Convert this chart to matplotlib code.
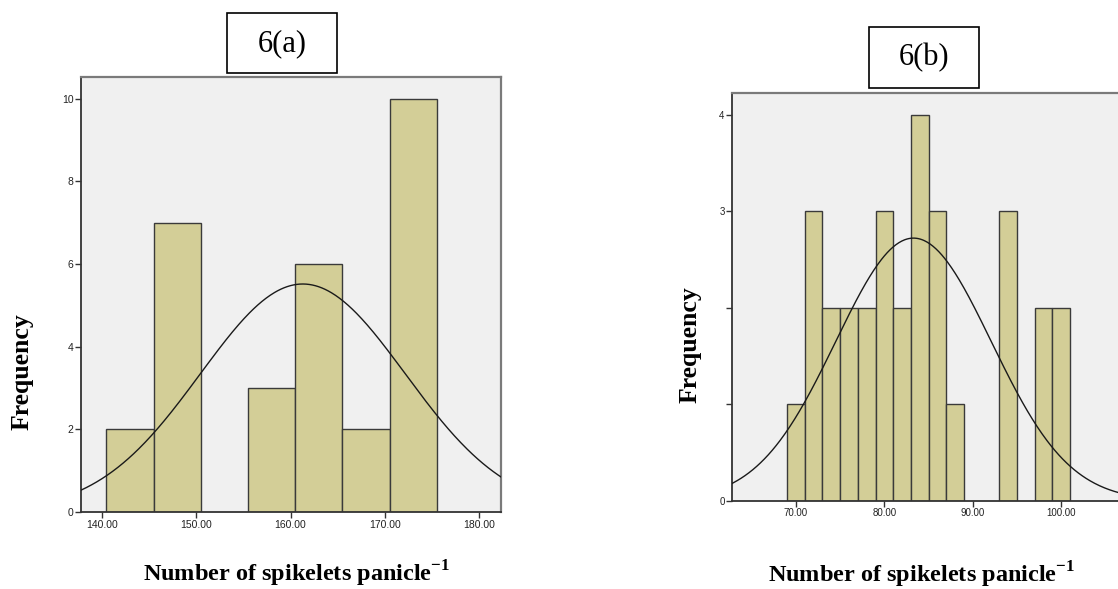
import numpy as np
import matplotlib
matplotlib.use("Agg")
import matplotlib.pyplot as plt
from matplotlib.patches import Rectangle

plt.rcParams['mathtext.fontset'] = 'custom'
plt.rcParams['mathtext.rm'] = 'Liberation Serif'
plt.rcParams['mathtext.bf'] = 'Liberation Serif:bold'

# ---- data: panel 6(a) ----
a_bin_edges = [140.5, 145.5, 150.5, 155.5, 160.5, 165.5, 170.5, 175.5]
a_counts = [2, 7, 0, 3, 6, 2, 10]
a_mean, a_sd, a_n = 161.3, 10.85, 30
a_xticks = [140, 150, 160, 170, 180]
a_yticks = [0, 2, 4, 6, 8, 10]
a_ytick_labels = ["0", "2", "4", "6", "8", "10"]

# ---- data: panel 6(b) ----
b_bin_edges = [69, 71, 73, 75, 77, 79, 81, 83, 85, 87, 89, 91, 93, 95, 97, 99, 101]
b_counts = [1, 3, 2, 2, 2, 3, 2, 4, 3, 1, 0, 0, 3, 0, 2, 2]
b_mean, b_sd, b_n = 83.3, 8.8, 30
b_xticks = [70, 80, 90, 100]
b_yticks = [0, 1, 2, 3, 4]
b_ytick_labels = ["0", "", "", "3", "4"]

W, H = 1118, 589
fig = plt.figure(figsize=(W / 100, H / 100), dpi=100)

BAR = '#D3CE97'
EDGE = '#3a3a3a'
BG = '#F0F0F0'


def panel(rect, edges, counts, mean, sd, n, xlim, ylim, xticks, yticks, ylabels, tfs):
    ax = fig.add_axes(rect)
    ax.set_facecolor(BG)
    edges = np.array(edges, dtype=float)
    widths = np.diff(edges)
    for l, w, c in zip(edges[:-1], widths, counts):
        if c > 0:
            ax.bar(l, c, width=w, align='edge', color=BAR, edgecolor=EDGE, linewidth=1.0, zorder=2)
    bw = widths[0]
    xs = np.linspace(xlim[0], xlim[1], 400)
    ys = n * bw / (sd * np.sqrt(2 * np.pi)) * np.exp(-0.5 * ((xs - mean) / sd) ** 2)
    ax.plot(xs, ys, color='#1a1a1a', lw=1.0, zorder=3)
    ax.set_xlim(*xlim)
    ax.set_ylim(*ylim)
    ax.set_xticks(xticks)
    ax.set_xticklabels([f"{t:.2f}" for t in xticks], fontsize=tfs, family='Liberation Sans', color='#222222')
    ax.set_yticks(yticks)
    ax.set_yticklabels(ylabels, fontsize=tfs, family='Liberation Sans', color='#222222')
    ax.tick_params(direction='out', length=4, width=1.0, color='#333333', pad=1.5)
    for s in ['left', 'bottom']:
        ax.spines[s].set_color('#333333')
        ax.spines[s].set_linewidth(1.3)
    for s in ['top', 'right']:
        ax.spines[s].set_color('#7a7a7a')
        ax.spines[s].set_linewidth(1.6)
    return ax


axa = panel([81 / W, 1 - 512 / H, (500.7 - 81) / W, (512 - 76.7) / H],
            a_bin_edges, a_counts, a_mean, a_sd, a_n,
            (137.8, 182.27), (0, 10.53), a_xticks, a_yticks, a_ytick_labels, 7.5)

axb = panel([732.3 / W, 1 - 500.7 / H, (1121 - 732.3) / W, (500.7 - 93.3) / H],
            b_bin_edges, b_counts, b_mean, b_sd, b_n,
            (62.79, 106.79), (0, 4.22), b_xticks, b_yticks, b_ytick_labels, 7)

# title boxes
for (x0, y0, x1, y1, txt) in [(226.7, 13.3, 337.3, 73.3, '6(a)'), (869, 27.3, 979.3, 87.7, '6(b)')]:
    fig.add_artist(Rectangle((x0 / W, 1 - y1 / H), (x1 - x0) / W, (y1 - y0) / H,
                             transform=fig.transFigure, facecolor='white',
                             edgecolor='black', linewidth=1.2, zorder=5))
    fig.text((x0 + x1) / 2 / W, 1 - (y0 + y1) / 2 / H, txt, ha='center', va='center',
             fontsize=22, family='Liberation Serif', zorder=6)

# axis labels
xl = r'Number of spikelets panicle$^{\mathbf{-1}}$'
fig.text(296.5 / W, 1 - 574 / H, xl, ha='center', va='center', fontsize=17.5,
         family='Liberation Serif', fontweight='bold')
fig.text(921.5 / W, 1 - 575 / H, xl, ha='center', va='center', fontsize=17.5,
         family='Liberation Serif', fontweight='bold')
fig.text(22 / W, 1 - 372 / H, 'Frequency', ha='center', va='center', rotation=90,
         fontsize=18.5, family='Liberation Serif', fontweight='bold')
fig.text(690 / W, 1 - 345 / H, 'Frequency', ha='center', va='center', rotation=90,
         fontsize=18.5, family='Liberation Serif', fontweight='bold')

fig.savefig('out.png', dpi=100)
